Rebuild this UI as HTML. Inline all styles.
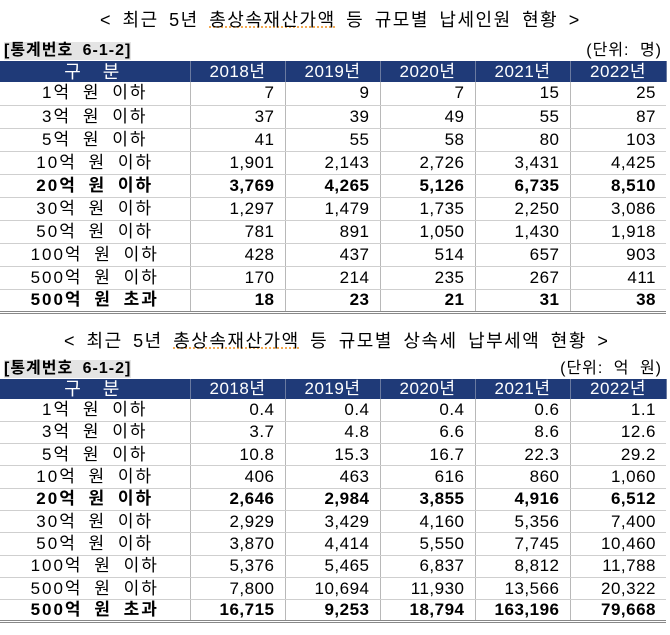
<!DOCTYPE html>
<html><head><meta charset="utf-8"><style>
body{margin:0;width:670px;height:635px;background:#fff;font-family:"Liberation Sans","Noto Sans CJK KR","NanumGothic",sans-serif;color:#000;position:relative;overflow:hidden}
.t{position:absolute;font-size:18px;white-space:pre;letter-spacing:1.5px;word-spacing:4px}
.lab{position:absolute;left:4px;font-size:16px;line-height:18px;font-weight:bold;background:#e4e4e4;letter-spacing:1px;word-spacing:4px}
.unit{position:absolute;right:8px;font-size:16px;line-height:18px;letter-spacing:1px;word-spacing:5px}
table{position:absolute;left:0;border-collapse:collapse;width:666px;table-layout:fixed;font-size:17px}
td{border-right:1.5px solid #b8b8b8;border-bottom:1.5px solid #cfcfcf;padding:0 10px 0 0;text-align:right;line-height:20px;overflow:hidden;white-space:nowrap;letter-spacing:0.5px}
td:last-child{border-right:none}
td:first-child{text-align:center;padding:0;letter-spacing:2px;word-spacing:5px}
tr.h td{background:#1f3a78;color:#fff;text-align:center;padding:0;border-right:1.5px solid #6a7aa0;border-bottom:none;letter-spacing:0.5px}
tr.h td:first-child{letter-spacing:6px;font-size:18px}
tr.b td{font-weight:bold}
table.a{border-bottom:3px double #888}
u{text-decoration:underline dotted #f0a040}
</style></head><body>
<div class="t" style="left:100px;top:6px">&lt; 최근 5년 <u>총상속재산가액</u> 등 규모별 납세인원 현황 &gt;</div>
<div class="lab" style="top:42px">[통계번호 6-1-2]</div>
<div class="unit" style="top:42px">(단위: 명)</div>
<table class="a" style="top:61px">
<colgroup><col style="width:190px"><col style="width:95px"><col style="width:95px"><col style="width:95px"><col style="width:95px"><col style="width:96px"></colgroup>
<tr class="h" style="height:21px"><td>구 분</td><td>2018년</td><td>2019년</td><td>2020년</td><td>2021년</td><td>2022년</td></tr>
<tr style="height:23px"><td>1억 원 이하</td><td>7</td><td>9</td><td>7</td><td>15</td><td>25</td></tr>
<tr style="height:23px"><td>3억 원 이하</td><td>37</td><td>39</td><td>49</td><td>55</td><td>87</td></tr>
<tr style="height:23px"><td>5억 원 이하</td><td>41</td><td>55</td><td>58</td><td>80</td><td>103</td></tr>
<tr style="height:23px"><td>10억 원 이하</td><td>1,901</td><td>2,143</td><td>2,726</td><td>3,431</td><td>4,425</td></tr>
<tr class="b" style="height:23px"><td>20억 원 이하</td><td>3,769</td><td>4,265</td><td>5,126</td><td>6,735</td><td>8,510</td></tr>
<tr style="height:23px"><td>30억 원 이하</td><td>1,297</td><td>1,479</td><td>1,735</td><td>2,250</td><td>3,086</td></tr>
<tr style="height:23px"><td>50억 원 이하</td><td>781</td><td>891</td><td>1,050</td><td>1,430</td><td>1,918</td></tr>
<tr style="height:23px"><td>100억 원 이하</td><td>428</td><td>437</td><td>514</td><td>657</td><td>903</td></tr>
<tr style="height:23px"><td>500억 원 이하</td><td>170</td><td>214</td><td>235</td><td>267</td><td>411</td></tr>
<tr class="b" style="height:23px"><td>500억 원 초과</td><td>18</td><td>23</td><td>21</td><td>31</td><td>38</td></tr>
</table>
<div class="t" style="left:64px;top:327px">&lt; 최근 5년 <u>총상속재산가액</u> 등 규모별 상속세 납부세액 현황 &gt;</div>
<div class="lab" style="top:360px">[통계번호 6-1-2]</div>
<div class="unit" style="top:360px">(단위: 억 원)</div>
<table class="a" style="top:379px">
<colgroup><col style="width:190px"><col style="width:95px"><col style="width:95px"><col style="width:95px"><col style="width:95px"><col style="width:96px"></colgroup>
<tr class="h" style="height:20px"><td>구 분</td><td>2018년</td><td>2019년</td><td>2020년</td><td>2021년</td><td>2022년</td></tr>
<tr style="height:22.3px"><td>1억 원 이하</td><td>0.4</td><td>0.4</td><td>0.4</td><td>0.6</td><td>1.1</td></tr>
<tr style="height:22.3px"><td>3억 원 이하</td><td>3.7</td><td>4.8</td><td>6.6</td><td>8.6</td><td>12.6</td></tr>
<tr style="height:22.3px"><td>5억 원 이하</td><td>10.8</td><td>15.3</td><td>16.7</td><td>22.3</td><td>29.2</td></tr>
<tr style="height:22.3px"><td>10억 원 이하</td><td>406</td><td>463</td><td>616</td><td>860</td><td>1,060</td></tr>
<tr class="b" style="height:22.3px"><td>20억 원 이하</td><td>2,646</td><td>2,984</td><td>3,855</td><td>4,916</td><td>6,512</td></tr>
<tr style="height:22.3px"><td>30억 원 이하</td><td>2,929</td><td>3,429</td><td>4,160</td><td>5,356</td><td>7,400</td></tr>
<tr style="height:22.3px"><td>50억 원 이하</td><td>3,870</td><td>4,414</td><td>5,550</td><td>7,745</td><td>10,460</td></tr>
<tr style="height:22.3px"><td>100억 원 이하</td><td>5,376</td><td>5,465</td><td>6,837</td><td>8,812</td><td>11,788</td></tr>
<tr style="height:22.3px"><td>500억 원 이하</td><td>7,800</td><td>10,694</td><td>11,930</td><td>13,566</td><td>20,322</td></tr>
<tr class="b" style="height:22.3px"><td>500억 원 초과</td><td>16,715</td><td>9,253</td><td>18,794</td><td>163,196</td><td>79,668</td></tr>
</table>
</body></html>
